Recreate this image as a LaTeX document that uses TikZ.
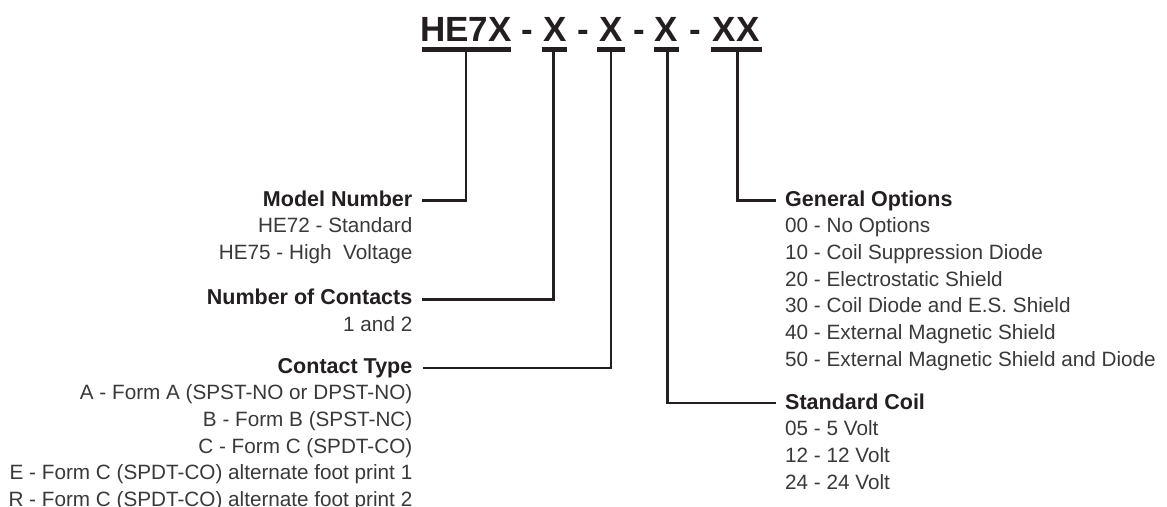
\documentclass[tikz,border=0pt]{standalone}
\usepackage{fontspec}
\setmainfont{Liberation Sans}
\definecolor{ink}{HTML}{231F20}
\definecolor{bodyink}{HTML}{3A3839}
\begin{document}
\begin{tikzpicture}[x=1pt,y=-1pt,
  title/.style={font=\fontsize{35}{40}\selectfont\bfseries, text=ink, inner sep=0pt, anchor=base},
  head/.style={font=\fontsize{21.5}{25}\selectfont\bfseries, text=ink, inner sep=0pt},
  body/.style={font=\fontsize{20.7}{25}\selectfont, text=bodyink, inner sep=0pt},
  bar/.style={line width=5pt, draw=ink, line cap=butt},
  lead/.style={line width=2.5pt, draw=ink}]
\useasboundingbox (0,0) rectangle (1167,506);

% title code
\node[title] (t1) at (465.9,41.7) {HE7X};
\node[title] (d1) at (527.5,41.7) {-};
\node[title] (t2) at (555,41.7) {X};
\node[title] (d2) at (583.5,41.7) {-};
\node[title] (t3) at (611,41.7) {X};
\node[title] (d3) at (639.5,41.7) {-};
\node[title] (t4) at (666.5,41.7) {X};
\node[title] (d4) at (695.5,41.7) {-};
\node[title] (t5) at (736,41.7) {XX};

% underline bars
\coordinate (b1a) at (421.7,49.8); \coordinate (b1b) at (511,49.8);
\coordinate (b2a) at (541.7,49.8); \coordinate (b2b) at (567.3,49.8);
\coordinate (b3a) at (597.3,49.8); \coordinate (b3b) at (625,49.8);
\coordinate (b4a) at (654,49.8);   \coordinate (b4b) at (679.3,49.8);
\coordinate (b5a) at (710.7,49.8); \coordinate (b5b) at (761.7,49.8);
\draw[bar] (b1a) -- (b1b);
\draw[bar] (b2a) -- (b2b);
\draw[bar] (b3a) -- (b3b);
\draw[bar] (b4a) -- (b4b);
\draw[bar] (b5a) -- (b5b);

% stems and leader ends
\coordinate (s1) at (466,52);   \coordinate (e1) at (421.7,200.5);
\coordinate (s2) at (553.3,52); \coordinate (e2) at (422,299.5);
\coordinate (s3) at (611,52);   \coordinate (e3) at (423,368);
\coordinate (s4) at (667.3,52); \coordinate (e4) at (776,403);
\coordinate (s5) at (737.7,52); \coordinate (e5) at (775.5,200.5);
\draw[lead] (s1) |- (e1);
\draw[lead] (s2) |- (e2);
\draw[lead] (s3) |- (e3);
\draw[lead] (s4) |- (e4);
\draw[lead] (s5) |- (e5);

% left blocks
\node[head, anchor=base east] (mn) at (412.5,206) {Model Number};
\foreach \txt [count=\i] in {{HE72 - Standard},{HE75 - High\ \ Voltage}}
  \node[body, anchor=base east] (mn\i) at (412.5,{206+26.7*\i}) {\txt};

\node[head, anchor=base east] (nc) at (412.5,304.5) {Number of Contacts};
\node[body, anchor=base east] (nc1) at (412.5,331.2) {1 and 2};

\node[head, anchor=base east] (ct) at (412.5,373) {Contact Type};
\foreach \txt [count=\i] in {{A - Form A (SPST-NO or DPST-NO)},{B - Form B (SPST-NC)},{C - Form C (SPDT-CO)},{E - Form C (SPDT-CO) alternate foot print 1},{R - Form C (SPDT-CO) alternate foot print 2}}
  \node[body, anchor=base east] (ct\i) at (412.5,{373+26.7*\i}) {\txt};

% right blocks
\node[head, anchor=base west] (go) at (785,206) {General Options};
\foreach \txt [count=\i] in {{00 - No Options},{10 - Coil Suppression Diode},{20 - Electrostatic Shield},{30 - Coil Diode and E.S. Shield},{40 - External Magnetic Shield},{50 - External Magnetic Shield and Diode}}
  \node[body, anchor=base west] (go\i) at (785,{206+26.7*\i}) {\txt};

\node[head, anchor=base west] (sc) at (785,409) {Standard Coil};
\foreach \txt [count=\i] in {{05 - 5 Volt},{12 - 12 Volt},{24 - 24 Volt}}
  \node[body, anchor=base west] (sc\i) at (785,{409+26.7*\i}) {\txt};
\end{tikzpicture}
\end{document}
